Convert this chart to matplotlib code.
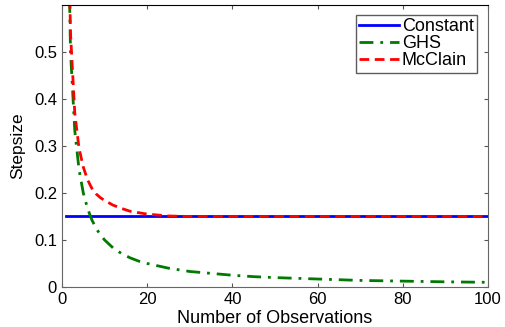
import matplotlib
matplotlib.use("Agg")
import matplotlib.pyplot as plt

# Data
const_n = [1, 100]
const_v = [0.15, 0.15]

ghs_n = [1, 2, 3, 4, 5, 6, 7, 8, 9, 10, 12, 14, 16, 18, 20, 25, 30, 35, 40, 45, 50, 60, 70, 80, 90, 100]
ghs_v = [1.0, 0.5, 0.333, 0.25, 0.2, 0.167, 0.143, 0.125, 0.111, 0.1, 0.083, 0.071, 0.062, 0.055,
         0.05, 0.04, 0.033, 0.029, 0.025, 0.022, 0.02, 0.017, 0.014, 0.0125, 0.011, 0.01]

mcc_n = [1, 2, 3, 4, 5, 6, 7, 8, 9, 10, 12, 14, 16, 18, 20, 25, 30, 40, 50, 60, 70, 80, 90, 100]
mcc_v = [1.0, 0.54, 0.37, 0.295, 0.255, 0.228, 0.21, 0.198, 0.19, 0.184, 0.174, 0.167, 0.161,
         0.158, 0.155, 0.151, 0.150, 0.150, 0.150, 0.150, 0.150, 0.150, 0.150, 0.150]

xticks = [0, 20, 40, 60, 80, 100]
yticks = [0, 0.1, 0.2, 0.3, 0.4, 0.5]
yticklabels = ["0", "0.1", "0.2", "0.3", "0.4", "0.5"]

plt.rcParams['font.family'] = ['Liberation Sans', 'DejaVu Sans']
fig = plt.figure(figsize=(5.06, 3.27), dpi=100)
ax = fig.add_axes([0.1225, 0.1223, 0.842, 0.863])

ax.plot(const_n, const_v, color='#0000ff', lw=2.0, label='Constant')
ax.plot(ghs_n, ghs_v, color='#007a00', lw=2.0, ls=(0, (5, 2.5, 1, 2.5)), label='GHS')
ax.plot(mcc_n, mcc_v, color='#ff0000', lw=2.0, ls=(0, (3.5, 2)), label='McClain')

ax.set_xlim(0, 100)
ax.set_ylim(0, 0.6)
ax.set_xticks(xticks)
ax.set_yticks(yticks)
ax.set_yticklabels(yticklabels)
ax.tick_params(direction='in', top=True, right=True, labelsize=12, length=3, color='#555555')
for s in ['left', 'bottom', 'right']:
    ax.spines[s].set_color('#666666')
ax.spines['top'].set_color('black')

ax.set_xlabel('Number of Observations', fontsize=13, labelpad=2)
ax.set_ylabel('Stepsize', fontsize=12.5, labelpad=6)

leg = ax.legend(loc='upper right', fontsize=13, frameon=True, fancybox=False,
                handlelength=2.2, handletextpad=0.15, borderpad=0.2, labelspacing=0.0,
                borderaxespad=0.4, bbox_to_anchor=(0.992, 0.99))
leg.get_frame().set_edgecolor('#333333')
leg.get_frame().set_linewidth(1.0)

fig.savefig('out.png', dpi=100)
